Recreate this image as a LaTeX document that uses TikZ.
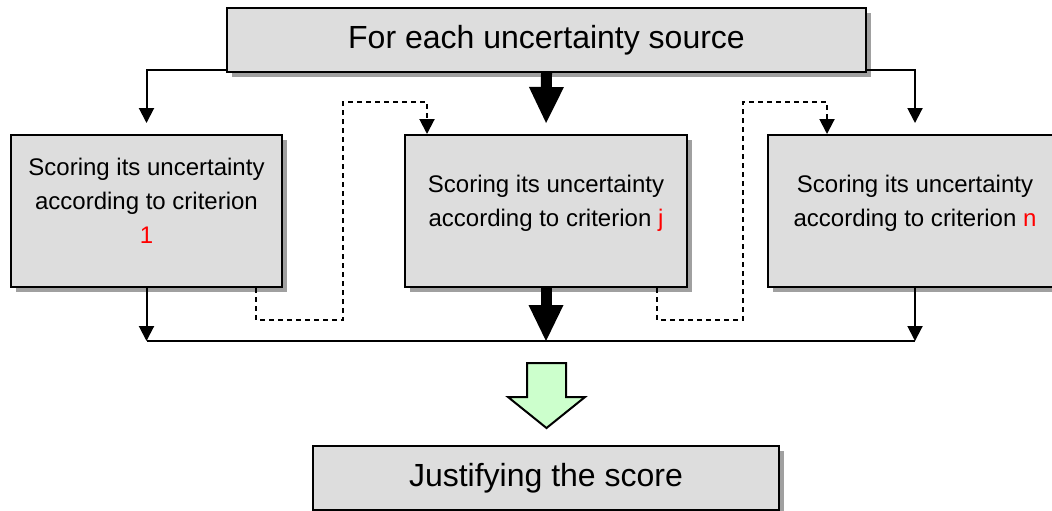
\documentclass[tikz,border=0pt]{standalone}
\usepackage{fontspec}
\setmainfont{Liberation Sans}
\usepackage{tikz}
\usetikzlibrary{positioning,arrows.meta,calc,shadows}
\definecolor{boxgray}{RGB}{221,221,221}
\definecolor{shadegray}{RGB}{160,160,160}
\definecolor{critred}{RGB}{255,0,0}
\definecolor{stepgreen}{RGB}{204,255,204}
\newcommand{\crit}[1]{\textcolor{critred}{#1}}

\begin{document}
\begin{tikzpicture}[
  x=0.5pt, y=-0.5pt,
  box/.style={draw, line width=1pt, fill=boxgray, align=center,
    drop shadow={shadow xshift=2.5pt, shadow yshift=-2.5pt, fill=shadegray, opacity=1}},
  headbox/.style={box, minimum width=319.5pt, minimum height=32pt,
    font=\fontsize{16}{19}\selectfont},
  critbox/.style={box, minimum height=76pt, text depth=10.5pt,
    font=\fontsize{12}{17}\selectfont},
  arr/.style={-{Triangle[length=7.5pt, width=7.5pt]}, line width=1pt},
  darr/.style={arr, dash pattern=on 2.5pt off 2pt},
  bigarr/.style={-{Triangle[length=18pt, width=17.5pt, line width=0pt]}, line width=5.5pt},
  blockarr/.style={draw, line width=1pt, fill=stepgreen}
]
  \useasboundingbox (0,0) rectangle (1052,510);

  % --- Source box ---
  \node[headbox] (src) at (546.5,40) {For each uncertainty source};

  % --- Criterion boxes ---
  \node[critbox, minimum width=135.5pt] (crit1) at (146.5,211)
    {Scoring its uncertainty\\according to criterion\\\crit{1}};
  \node[critbox, minimum width=141pt] (critj) at (546,211)
    {Scoring its uncertainty\\according to criterion \crit{j}};
  \node[critbox, minimum width=147pt] (critn) at (915,211)
    {Scoring its uncertainty\\according to criterion \crit{n}};

  % --- Source to criteria ---
  \draw[arr, shorten >=5.5pt] ([yshift=1.75pt]src.south west) -| (crit1.north);
  \draw[arr, shorten >=5.5pt] ([yshift=1.75pt]src.south east) -| (critn.north);
  \draw[bigarr, shorten >=5.5pt] (src.south) -- (critj.north);

  % --- Dashed hand-over between criteria ---
  \draw[darr] ([xshift=-13.5pt]crit1.south east) -- ++(0,32) -- ++(87,0)
    |- ($([xshift=11.5pt]critj.north west)+(0,-32)$) -- ([xshift=11.5pt]critj.north west);
  \draw[darr] ([xshift=-15.5pt]critj.south east) -- ++(0,32) -- ++(86,0)
    |- ($([xshift=30pt]critn.north west)+(0,-32)$) -- ([xshift=30pt]critn.north west);

  % --- Collecting the scores ---
  \coordinate (join) at (546,341);
  \draw[line width=1pt] (crit1.south |- join) -- (critn.south |- join);
  \draw[arr] (crit1.south) -- (crit1.south |- join);
  \draw[bigarr] (critj.south) -- (critj.south |- join);
  \draw[arr] (critn.south) -- (critn.south |- join);

  % --- Block arrow and justification ---
  \coordinate (down) at (546.5,363);
  \draw[blockarr] (down) ++(-19.5,0) -- ++(39,0) -- ++(0,34) -- ++(19,0)
    -- ++(-38.5,31) -- ++(-38.5,-31) -- ++(19,0) -- cycle;

  \node[headbox, minimum width=233pt] (just) at (546,478) {Justifying the score};
\end{tikzpicture}
\end{document}
